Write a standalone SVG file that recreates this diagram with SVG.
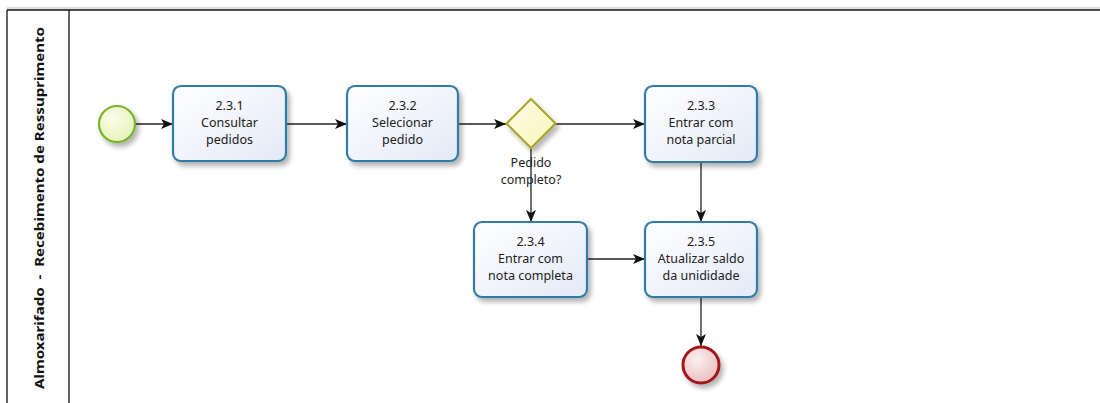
<svg xmlns="http://www.w3.org/2000/svg" width="1100" height="403" viewBox="0 0 1100 403">
<style>
.task{fill:url(#gTask);stroke:#2f7ba8;stroke-width:2.2;filter:url(#sh)}
.lbl{font-family:"Noto Sans","Open Sans",sans-serif;font-size:12.5px;fill:#222;text-anchor:middle}
.con{stroke:#222;stroke-width:1.3;fill:none;marker-end:url(#arr)}
.lane{stroke:#111;stroke-width:1.3;fill:none}
</style>
<defs>
<linearGradient id="gTask" x1="0" y1="0" x2="1" y2="1"><stop offset="0" stop-color="#ffffff"/><stop offset="1" stop-color="#e3e9f7"/></linearGradient>
<radialGradient id="gStart" cx="0.4" cy="0.35" r="0.7"><stop offset="0" stop-color="#fbfde8"/><stop offset="1" stop-color="#e6f2b8"/></radialGradient>
<radialGradient id="gEnd" cx="0.4" cy="0.35" r="0.7"><stop offset="0" stop-color="#fdf0f0"/><stop offset="1" stop-color="#e9bcbc"/></radialGradient>
<linearGradient id="gGw" x1="0" y1="0" x2="1" y2="1"><stop offset="0" stop-color="#fefee8"/><stop offset="1" stop-color="#f8f4b8"/></linearGradient>
<filter id="sh" x="-20%" y="-20%" width="150%" height="150%"><feGaussianBlur in="SourceAlpha" stdDeviation="2.5"/><feOffset dx="3" dy="4"/><feComponentTransfer><feFuncA type="linear" slope="0.3"/></feComponentTransfer><feMerge><feMergeNode/><feMergeNode in="SourceGraphic"/></feMerge></filter>
<marker id="arr" viewBox="0 0 12 10" refX="12" refY="5" markerWidth="12" markerHeight="10" markerUnits="userSpaceOnUse" orient="auto"><path d="M0,0 L12,5 L0,10 L3,5 z" fill="#111"/></marker>
</defs>
<g id="pool">
<line x1="7" y1="8" x2="1100" y2="8" stroke="#bbb" stroke-width="1"/>
<line x1="7" y1="10" x2="1100" y2="10" class="lane"/>
<line x1="7" y1="10" x2="7" y2="403" class="lane"/>
<line x1="69" y1="10" x2="69" y2="403" class="lane"/>
<text x="0" y="0" transform="translate(44,208) rotate(-90)" style="font-family:'Noto Sans','Open Sans',sans-serif;font-size:13px;font-weight:bold;fill:#111" text-anchor="middle" textLength="362" lengthAdjust="spacingAndGlyphs" xml:space="preserve">Almoxarifado  -  Recebimento de Ressuprimento</text>
</g>
<g id="connectors">
<line x1="136" y1="124" x2="173" y2="124" class="con"/>
<line x1="286" y1="124" x2="347" y2="124" class="con"/>
<line x1="458" y1="124" x2="506" y2="124" class="con"/>
<line x1="555" y1="124" x2="645" y2="124" class="con"/>
<line x1="531" y1="148" x2="531" y2="222" class="con"/>
<line x1="701" y1="162" x2="701" y2="222" class="con"/>
<line x1="587" y1="259" x2="645" y2="259" class="con"/>
<line x1="701" y1="297" x2="701" y2="346" class="con"/>
</g>
<g id="start"><circle cx="117" cy="124" r="18" fill="url(#gStart)" stroke="#76b52a" stroke-width="2.2" filter="url(#sh)"/></g>
<g id="t231"><rect class="task" x="173" y="86" width="113" height="75" rx="8"/><text class="lbl" x="229.5" y="110">2.3.1</text><text class="lbl" x="229.5" y="127">Consultar</text><text class="lbl" x="229.5" y="144">pedidos</text></g>
<g id="t232"><rect class="task" x="347" y="86" width="111" height="75" rx="8"/><text class="lbl" x="402.5" y="110">2.3.2</text><text class="lbl" x="402.5" y="127">Selecionar</text><text class="lbl" x="402.5" y="144">pedido</text></g>
<g id="gw"><path d="M531,99 L555.5,123.5 L531,148 L506.5,123.5 z" fill="url(#gGw)" stroke="#aaa326" stroke-width="2" filter="url(#sh)"/><text class="lbl" x="531" y="167">Pedido</text><text class="lbl" x="531" y="184">completo?</text></g>
<g id="t233"><rect class="task" x="645" y="86" width="112" height="76" rx="8"/><text class="lbl" x="701" y="110">2.3.3</text><text class="lbl" x="701" y="127">Entrar com</text><text class="lbl" x="701" y="144">nota parcial</text></g>
<g id="t234"><rect class="task" x="474" y="222" width="113" height="75" rx="8"/><text class="lbl" x="530.5" y="246">2.3.4</text><text class="lbl" x="530.5" y="263">Entrar com</text><text class="lbl" x="530.5" y="280">nota completa</text></g>
<g id="t235"><rect class="task" x="645" y="222" width="112" height="75" rx="8"/><text class="lbl" x="701" y="246">2.3.5</text><text class="lbl" x="701" y="263">Atualizar saldo</text><text class="lbl" x="701" y="280">da unididade</text></g>
<g id="end"><circle cx="701" cy="365" r="18" fill="url(#gEnd)" stroke="#a3191c" stroke-width="3" filter="url(#sh)"/></g>
</svg>
